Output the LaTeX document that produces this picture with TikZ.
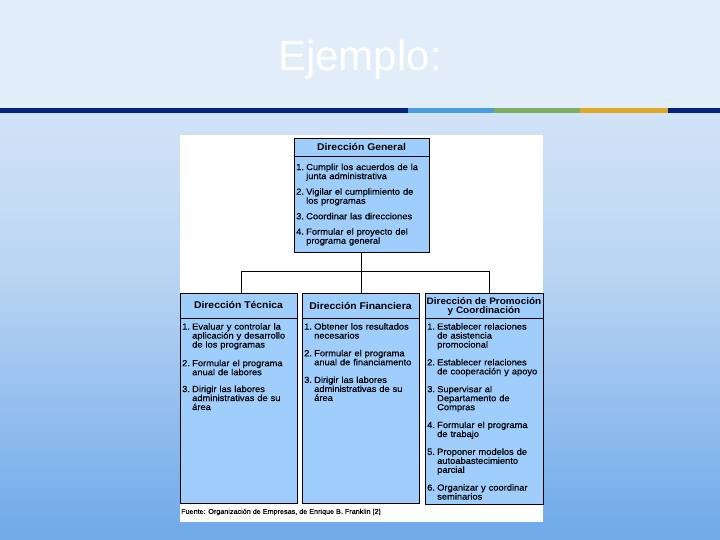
\documentclass[tikz,border=0pt]{standalone}
\usepackage{fontspec}
\setmainfont{Liberation Sans}
\newfontfamily\boxfont[FakeStretch=1.06,FakeBold=0.4]{Liberation Sans}
\newfontfamily\headfont[FakeStretch=1.06]{Liberation Sans}
\definecolor{bgtop}{HTML}{E2EDFA}
\definecolor{bgmid}{HTML}{BBD5F3}
\definecolor{bgbot}{HTML}{6EA9E9}
\definecolor{navy}{HTML}{04237D}
\definecolor{barblue}{HTML}{4A9EE0}
\definecolor{bargreen}{HTML}{7AB060}
\definecolor{barorange}{HTML}{E0A82A}
\definecolor{boxfill}{HTML}{9FCDFC}
\newlength\numw
\setlength\numw{10pt}
\newcommand\itm[2]{\noindent\makebox[\numw][l]{#1.}\parbox[t]{\dimexpr\linewidth-\numw\relax}{\raggedright #2}\par}
\tikzset{
  orgbox/.style={draw=black, line width=0.8pt, fill=boxfill, inner sep=0pt},
  conn/.style={draw=black, line width=0.8pt},
  headtxt/.style={font=\headfont\bfseries\fontsize{9.8}{11}\selectfont, align=center, inner sep=0pt},
  itemtxt/.style={anchor=north west, inner sep=0pt, align=left,
     font=\boxfont\fontsize{8.8}{9}\selectfont},
}
\begin{document}
\begin{tikzpicture}[x=1pt,y=-1pt]
\useasboundingbox (0,0) rectangle (720,540);
\shade[top color=bgtop, bottom color=bgbot, middle color=bgmid] (0,0) rectangle (720,540);
\fill[bgtop] (0,0) rectangle (720,108);
% title
\node[text=white, font=\fontsize{42}{48}\selectfont, inner sep=0pt] (title) at (360,60) {Ejemplo:};
% bar
\fill[navy] (0,108) rectangle (408,113.5);
\fill[barblue] (408,108) rectangle (494,113.5);
\fill[bargreen] (494,108) rectangle (580,113.5);
\fill[barorange] (580,108) rectangle (668,113.5);
\fill[navy] (668,108) rectangle (720,113.5);
% white panel
\fill[white] (180,135) rectangle (543,522);
% boxes
\node[orgbox, minimum width=135pt, minimum height=114pt] (dg) at (361.5,195) {};
\node[orgbox, minimum width=117pt, minimum height=210pt] (tec) at (238.5,398) {};
\node[orgbox, minimum width=117pt, minimum height=210pt] (fin) at (360.5,398) {};
\node[orgbox, minimum width=118pt, minimum height=211pt] (pro) at (484,398.5) {};
% header separators
\draw[conn] ([yshift=-19pt]dg.north west) -- ([yshift=-19pt]dg.north east);
\draw[conn] ([yshift=-26pt]tec.north west) -- ([yshift=-26pt]tec.north east);
\draw[conn] ([yshift=-26pt]fin.north west) -- ([yshift=-26pt]fin.north east);
\draw[conn] ([yshift=-26pt]pro.north west) -- ([yshift=-26pt]pro.north east);
% connectors
\coordinate (j) at (361.5,271);
\draw[conn] (dg.south) -- (j);
\draw[conn] (j) -| ([xshift=2.5pt]tec.north);
\draw[conn] (j) -| ([xshift=5pt]pro.north);
\draw[conn] (j) -- (fin.north -| j);
% headers
\node[headtxt] (hdg) at (361.5,147) {Dirección General};
\node[headtxt] (htec) at (238.5,305) {Dirección Técnica};
\node[headtxt] (hfin) at (360.5,305.5) {Dirección Financiera};
\node[headtxt, font=\headfont\bfseries\fontsize{9.4}{11}\selectfont] (hpro) at (484,306.5) {Dirección de Promoción\\[-1.5pt]y Coordinación};
% items
\node[itemtxt, text width=132pt, execute at begin node={\setlength{\parskip}{6.4pt}}] (idg) at (296,163.5) {%
\itm{1}{Cumplir los acuerdos de la\\junta administrativa}
\itm{2}{Vigilar el cumplimiento de\\los programas}
\itm{3}{Coordinar las direcciones}
\itm{4}{Formular el proyecto del\\programa general}};
\node[itemtxt, text width=116pt, execute at begin node={\setlength{\parskip}{9.4pt}}] (itec) at (182,323) {%
\itm{1}{Evaluar y controlar la\\aplicación y desarrollo\\de los programas}
\itm{2}{Formular el programa\\anual de labores}
\itm{3}{Dirigir las labores\\administrativas de su\\área}};
\node[itemtxt, text width=116pt, execute at begin node={\setlength{\parskip}{10.2pt}}] (ifin) at (304,323) {%
\itm{1}{Obtener los resultados\\necesarios}
\itm{2}{Formular el programa\\anual de financiamento}
\itm{3}{Dirigir las labores\\administrativas de su\\área}};
\node[itemtxt, text width=117pt, execute at begin node={\setlength{\parskip}{8.6pt}}] (ipro) at (427,323) {%
\itm{1}{Establecer relaciones\\de asistencia\\promocional}
\itm{2}{Establecer relaciones\\de cooperación y apoyo}
\itm{3}{Supervisar al\\Departamento de\\Compras}
\itm{4}{Formular el programa\\de trabajo}
\itm{5}{Proponer modelos de\\autoabastecimiento\\parcial}
\itm{6}{Organizar y coordinar\\seminarios}};
% footer
\node[anchor=west, inner sep=0pt, font=\boxfont\fontsize{6.8}{8}\selectfont] (src) at (181,512) {Fuente: Organización de Empresas, de Enrique B. Franklin [2]};
\end{tikzpicture}
\end{document}
